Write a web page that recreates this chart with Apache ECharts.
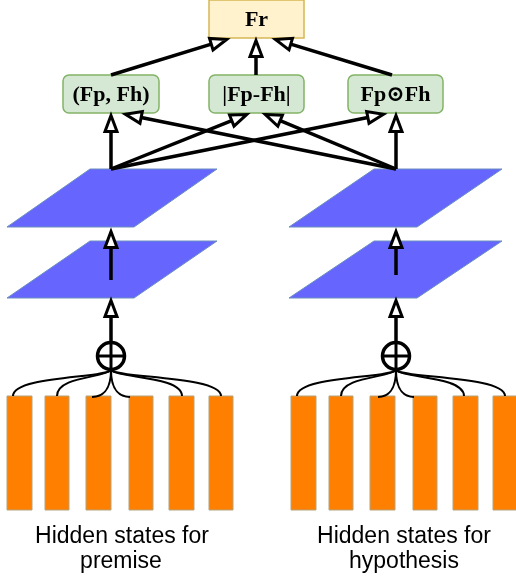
<!DOCTYPE html>
<html><head><meta charset="utf-8">
<style>html,body{margin:0;padding:0;background:#fff}#c{width:516px;height:579px}</style>
<script src="https://cdn.jsdelivr.net/npm/echarts/dist/echarts.min.js"></script>
</head><body><div id="c"></div>
<script>
// ---- diagram data (diagram units = pixels of a 516x579 canvas) ----
const nodeLabels = ['Fr', '(Fp, Fh)', '|Fp-Fh|', 'Fp\u2299Fh'];
const nodeKinds = [0, 1, 1, 1];            // 0 = output box, 1 = feature box
const nodeBoxes = [[209, 0, 304, 38], [63, 75, 159, 113], [209, 75, 304, 113], [348, 75, 443, 113]];
// parallelograms: [bottomLeftX, topLeftX, width, topY, bottomY]
const planes = [[7, 90, 127, 169, 227], [7, 90, 127, 241, 298], [289, 374, 128, 169, 227], [289, 374, 128, 241, 298]];
// hidden-state bars: [x0, x1]
const hiddenBars = [[7, 32], [45, 69], [86, 111], [129, 153], [169, 194], [209, 233],
                    [291, 316], [329, 353], [370, 395], [413, 437], [453, 478], [493, 517]];
const barTop = 396, barBottom = 510;
// merge (⊕) nodes: [cx, cy]
const merges = [[111, 356], [396, 356]];
// curves from ⊕ to bar tops: [cx, cy, endX, kind] kind 0 = outer, 1 = inner
const curves = [[111, 356, 13, 0], [111, 356, 57, 0], [111, 356, 92, 1], [111, 356, 130, 1], [111, 356, 182, 0], [111, 356, 221, 0],
                [396, 356, 297, 0], [396, 356, 341, 0], [396, 356, 378, 1], [396, 356, 414, 1], [396, 356, 464, 0], [396, 356, 505, 0]];
// arrows: [startX, startY, tipX, tipY]
const arrows = [
  [111, 75, 228, 39], [256, 75, 256, 39], [392, 75, 274, 39],
  [111, 169, 111, 114], [111, 169, 248, 114], [111, 169, 385, 114],
  [396, 169, 124, 114], [396, 169, 264, 114], [396, 169, 396, 114],
  [111, 280, 111, 230], [111, 342, 111, 299],
  [396, 275, 396, 230], [396, 342, 396, 299]
];
const captionText = ['Hidden states for', 'premise', 'Hidden states for', 'hypothesis'];
const captionPos = [[122, 537], [121, 562], [404, 537], [404, 562]];

const chart = echarts.init(document.getElementById('c'));
const C = (api, x, y) => api.coord([x, y]);

const option = {
  animation: false,
  grid: {left: 0, right: 0, top: 0, bottom: 0},
  xAxis: {type: 'value', min: 0, max: 516, show: false},
  yAxis: {type: 'value', min: 0, max: 579, inverse: true, show: false},
  series: [
    { // parallelograms
      type: 'custom', data: planes, z: 1,
      renderItem: (p, api) => {
        const bl = api.value(0), tl = api.value(1), w = api.value(2), yt = api.value(3), yb = api.value(4);
        return {type: 'polygon', shape: {points: [C(api, tl, yt), C(api, tl + w, yt), C(api, bl + w, yb), C(api, bl, yb)]},
                style: {fill: '#6666ff', stroke: '#6c8ebf', lineWidth: 1}};
      }
    },
    { // hidden-state bars
      type: 'custom', data: hiddenBars, z: 2,
      renderItem: (p, api) => {
        const a = C(api, api.value(0), barTop), b = C(api, api.value(1), barBottom);
        return {type: 'rect', shape: {x: a[0], y: a[1], width: b[0] - a[0], height: b[1] - a[1]},
                style: {fill: '#ff8000', stroke: '#b3a37a', lineWidth: 1}};
      }
    },
    { // curves
      type: 'custom', data: curves, z: 3,
      renderItem: (p, api) => {
        const cx = api.value(0), cy = api.value(1), ex = api.value(2), kind = api.value(3);
        const s = ex < cx ? -1 : 1;
        let pts;
        if (kind === 0) {
          pts = [[cx, cy + 14], [cx + 6 * s, cy + 22], [ex, cy + 20], [ex, barTop]];
        } else {
          pts = [[cx, cy + 14], [cx, cy + 35], [(cx + ex) / 2, barTop + 1], [ex, barTop + 1]];
        }
        const q = pts.map(t => C(api, t[0], t[1]));
        return {type: 'bezierCurve', shape: {x1: q[0][0], y1: q[0][1], cpx1: q[1][0], cpy1: q[1][1],
                cpx2: q[2][0], cpy2: q[2][1], x2: q[3][0], y2: q[3][1]},
                style: {stroke: '#000', lineWidth: 2, fill: null}};
      }
    },
    { // merge circles
      type: 'custom', data: merges, z: 4,
      renderItem: (p, api) => {
        const c = C(api, api.value(0), api.value(1)); const r = 13.5;
        return {type: 'group', children: [
          {type: 'circle', shape: {cx: c[0], cy: c[1], r: r}, style: {fill: '#fff', stroke: '#000', lineWidth: 3.5}},
          {type: 'line', shape: {x1: c[0] - r, y1: c[1], x2: c[0] + r, y2: c[1]}, style: {stroke: '#000', lineWidth: 3}},
          {type: 'line', shape: {x1: c[0], y1: c[1] - r, x2: c[0], y2: c[1] + r}, style: {stroke: '#000', lineWidth: 3}}
        ]};
      }
    },
    { // node boxes + labels
      type: 'custom', data: nodeBoxes, z: 5,
      renderItem: (p, api) => {
        const a = C(api, api.value(0), api.value(1)), b = C(api, api.value(2), api.value(3));
        const k = nodeKinds[p.dataIndex];
        return {type: 'group', children: [
          {type: 'rect', shape: {x: a[0], y: a[1], width: b[0] - a[0], height: b[1] - a[1], r: k ? 6 : 0},
           style: k ? {fill: '#d5e8d4', stroke: '#82b366', lineWidth: 1.5} : {fill: '#fff2cc', stroke: '#d6b656', lineWidth: 1.5}},
          {type: 'text', style: {text: nodeLabels[p.dataIndex], x: (a[0] + b[0]) / 2, y: (a[1] + b[1]) / 2 + 1,
           align: 'center', verticalAlign: 'middle', fill: '#000', font: "bold 22px 'Liberation Serif', 'DejaVu Serif', serif"}}
        ]};
      }
    },
    { // arrows
      type: 'custom', data: arrows, z: 6,
      renderItem: (p, api) => {
        const s = C(api, api.value(0), api.value(1)), t = C(api, api.value(2), api.value(3));
        const dx = t[0] - s[0], dy = t[1] - s[1], len = Math.hypot(dx, dy);
        const ux = dx / len, uy = dy / len, nx = -uy, ny = ux;
        const L = 16, hw = 6;
        const tx = t[0] - ux * 1.5, ty = t[1] - uy * 1.5;
        const bx = tx - ux * L, by = ty - uy * L;
        return {type: 'group', children: [
          {type: 'line', shape: {x1: s[0], y1: s[1], x2: bx, y2: by}, style: {stroke: '#000', lineWidth: 3.5}},
          {type: 'polygon', shape: {points: [[tx, ty], [bx + nx * hw, by + ny * hw], [bx - nx * hw, by - ny * hw]]},
           style: {fill: '#fff', stroke: '#000', lineWidth: 3, lineJoin: 'miter'}}
        ]};
      }
    },
    { // captions
      type: 'custom', data: captionPos, z: 7,
      renderItem: (p, api) => {
        const c = C(api, api.value(0), api.value(1));
        return {type: 'text', style: {text: captionText[p.dataIndex], x: c[0], y: c[1], align: 'center', verticalAlign: 'middle',
                fill: '#000', font: "23px 'Liberation Sans', Arial, sans-serif"}};
      }
    }
  ]
};
chart.setOption(option);
</script></body></html>
